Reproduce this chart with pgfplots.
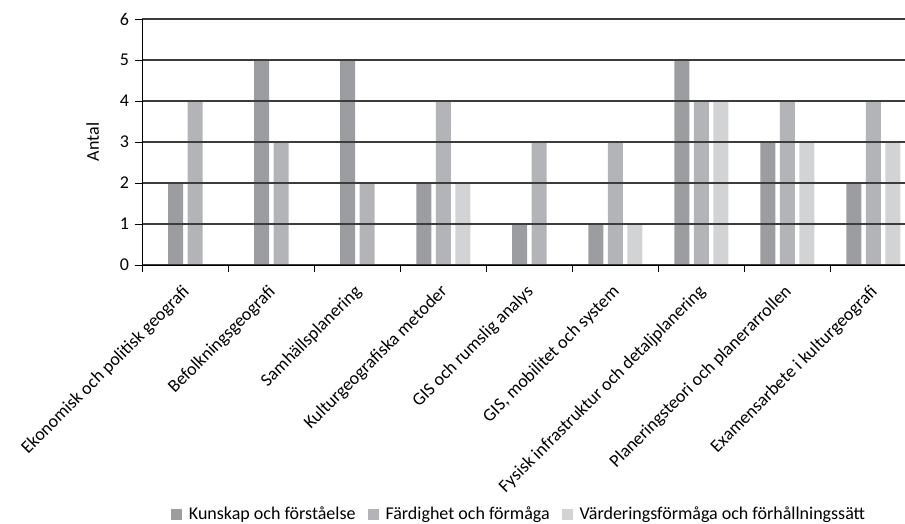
\documentclass[border=0pt]{standalone}
\usepackage{pgfplots}
\pgfplotsset{compat=1.18}
\usepackage{fontspec}
\setmainfont{Carlito}
\definecolor{kunskap}{HTML}{9C9DA0}
\definecolor{fardighet}{HTML}{B3B4B7}
\definecolor{vardering}{HTML}{D2D3D5}
\definecolor{gridgray}{HTML}{3C3C3C}
\pgfplotsset{
  swatch/.style={legend image code/.code={\fill[##1, draw=none] (0bp,-5.5bp) rectangle (11bp,5.5bp);}},
}

\begin{document}
\fontsize{18bp}{21bp}\selectfont
\begin{tikzpicture}
\path[use as bounding box] (-142.3bp,-259bp) rectangle (762.7bp,265bp);
\begin{axis}[
  at={(0,0)}, anchor=south west,
  scale only axis, width=762.7bp, height=246bp,
  ybar, bar width=15bp,
  xmin=-0.5, xmax=8.369, ymin=0, ymax=6,
  ytick={0,...,6},
  xtick={0,...,8},
  xticklabels={Ekonomisk och politisk geografi, Befolkningsgeografi, Samhällsplanering,
    Kulturgeografiska metoder, GIS och rumslig analys, {GIS, mobilitet och system},
    Fysisk infrastruktur och detaljplanering, Planeringsteori och planerarrollen,
    Examensarbete i kulturgeografi},
  minor xtick={-0.5,0.5,...,7.5},
  axis x line*=bottom, axis y line*=left,
  axis line style={-, black, line width=1bp},
  tick align=outside,
  major tick length=7bp, minor tick length=7bp,
  major x tick style={draw=none},
  minor x tick style={black, line width=1bp},
  ytick style={black, line width=1bp},
  ymajorgrids, grid style={gridgray, line width=1.2bp},
  axis on top,
  /pgf/number format/assume math mode=true,
  xticklabel style={xshift=-4bp, yshift=-10bp, rotate=45, anchor=north east, inner sep=1bp},
  ylabel={Antal},
  ylabel style={at={(axis description cs:-0.065,0.5)}, anchor=center},
  legend style={at={(0.494,-1.016)}, anchor=center, draw=none, fill=none,
    legend columns=3,
    /tikz/every odd column/.append style={column sep=5bp},
    /tikz/every even column/.append style={column sep=10bp}},
]
% categories with three bars
\addplot[fill=kunskap, draw=none, bar shift=-19.5bp, swatch] coordinates {(3,2) (5,1) (6,5) (7,3) (8,2)};
\addlegendentry{Kunskap och förståelse}
\addplot[fill=fardighet, draw=none, bar shift=0bp, swatch] coordinates {(3,4) (5,3) (6,4) (7,4) (8,4)};
\addlegendentry{Färdighet och förmåga}
\addplot[fill=vardering, draw=none, bar shift=19.5bp, swatch] coordinates {(3,2) (5,1) (6,4) (7,3) (8,3)};
\addlegendentry{Värderingsförmåga och förhållningssätt}
% categories with two bars
\addplot[fill=kunskap, draw=none, bar shift=-9.75bp, forget plot] coordinates {(0,2) (1,5) (2,5) (4,1)};
\addplot[fill=fardighet, draw=none, bar shift=9.75bp, forget plot] coordinates {(0,4) (1,3) (2,2) (4,3)};
\end{axis}
\end{tikzpicture}
\end{document}
